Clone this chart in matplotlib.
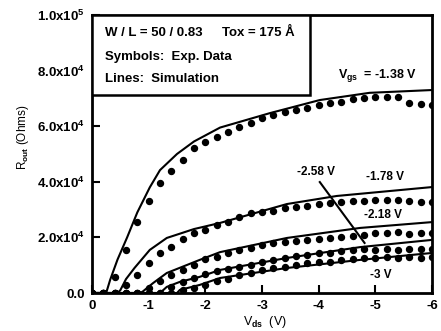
import numpy as np
import matplotlib
matplotlib.use("Agg")
import matplotlib.pyplot as plt
from matplotlib.patches import Rectangle

plt.rcParams['font.family'] = ['Liberation Sans', 'DejaVu Sans']
plt.rcParams['font.weight'] = 'bold'
plt.rcParams['mathtext.fontset'] = 'custom'
plt.rcParams['mathtext.rm'] = 'Liberation Sans:bold'
plt.rcParams['mathtext.it'] = 'Liberation Sans:bold'
plt.rcParams['mathtext.bf'] = 'Liberation Sans:bold'
plt.rcParams['mathtext.default'] = 'rm'
plt.rcParams['axes.unicode_minus'] = False

# Datos experimentales (simbolos), Vds de 0 a -6 V
vds_exp = [0.0, -0.2, -0.4, -0.6, -0.8, -1.0, -1.2, -1.4, -1.6, -1.8, -2.0,
           -2.2, -2.4, -2.6, -2.8, -3.0, -3.2, -3.4, -3.6, -3.8, -4.0,
           -4.2, -4.4, -4.6, -4.8, -5.0, -5.2, -5.4, -5.6, -5.8, -6.0]
r_exp_138 = [0, 0, 5.8e3, 1.55e4, 2.55e4, 3.3e4, 3.96e4, 4.39e4, 4.78e4, 5.2e4, 5.43e4,
             5.6e4, 5.8e4, 5.97e4, 6.1e4, 6.3e4, 6.4e4, 6.5e4, 6.58e4, 6.65e4, 6.76e4,
             6.83e4, 6.87e4, 6.98e4, 7.0e4, 7.05e4, 7.05e4, 7.05e4, 6.83e4, 6.8e4, 6.76e4]
r_exp_178 = [0, 0, 0, 3.0e3, 6.5e3, 1.08e4, 1.44e4, 1.65e4, 1.94e4, 2.16e4, 2.27e4,
             2.45e4, 2.55e4, 2.73e4, 2.88e4, 2.91e4, 2.95e4, 3.06e4, 3.09e4, 3.13e4, 3.2e4,
             3.24e4, 3.27e4, 3.31e4, 3.31e4, 3.35e4, 3.35e4, 3.35e4, 3.31e4, 3.27e4, 3.27e4]
r_exp_218 = [0, 0, 0, 0, 0, 1.8e3, 4.3e3, 6.5e3, 8.3e3, 1.0e4, 1.22e4,
             1.3e4, 1.45e4, 1.55e4, 1.62e4, 1.73e4, 1.8e4, 1.83e4, 1.87e4, 1.9e4, 1.94e4,
             1.98e4, 2.01e4, 2.05e4, 2.09e4, 2.16e4, 2.16e4, 2.19e4, 2.12e4, 2.16e4, 2.16e4]
r_exp_258 = [0, 0, 0, 0, 0, 0, 0, 2.2e3, 4.0e3, 5.4e3, 6.8e3,
             7.9e3, 8.8e3, 9.4e3, 1.0e4, 1.12e4, 1.19e4, 1.26e4, 1.33e4, 1.37e4, 1.44e4,
             1.44e4, 1.51e4, 1.55e4, 1.58e4, 1.55e4, 1.58e4, 1.55e4, 1.58e4, 1.58e4, 1.58e4]
r_exp_300 = [0, 0, 0, 0, 0, 0, 0, 0, 1.0e3, 1.8e3, 2.9e3,
             4.3e3, 5.0e3, 6.5e3, 7.2e3, 8.3e3, 9.0e3, 9.4e3, 1.0e4, 1.08e4, 1.12e4,
             1.12e4, 1.19e4, 1.22e4, 1.26e4, 1.26e4, 1.3e4, 1.26e4, 1.3e4, 1.26e4, 1.3e4]

# Simulacion (lineas)
vds_sim_138 = [0, -0.25, -0.32, -0.45, -0.62, -0.8, -1.02, -1.2, -1.5, -1.8, -2.26, -3.14, -4.02, -4.9, -6.0]
r_sim_138 = [0, 0, 4.7e3, 1.2e4, 2.0e4, 2.9e4, 3.8e4, 4.42e4, 5.0e4, 5.45e4, 5.95e4, 6.47e4, 6.94e4, 7.2e4, 7.3e4]
vds_sim_178 = [0, -0.45, -0.5, -0.6, -0.75, -1.02, -1.32, -1.8, -2.26, -3.44, -4.32, -6.0]
r_sim_178 = [0, 0, 1.0e3, 5.0e3, 9.0e3, 1.55e4, 1.98e4, 2.3e4, 2.52e4, 3.2e4, 3.49e4, 3.81e4]
vds_sim_218 = [0, -0.85, -0.9, -1.08, -1.32, -1.9, -2.26, -3.44, -4.73, -6.0]
r_sim_218 = [0, 0, 600, 3.6e3, 7.2e3, 1.19e4, 1.47e4, 1.98e4, 2.34e4, 2.55e4]
vds_sim_258 = [0, -1.2, -1.32, -1.55, -1.9, -2.26, -3.44, -4.73, -6.0]
r_sim_258 = [0, 0, 2.2e3, 4.0e3, 5.8e3, 8.3e3, 1.26e4, 1.65e4, 1.91e4]
vds_sim_300 = [0, -1.5, -1.55, -1.9, -2.26, -3.44, -4.73, -6.0]
r_sim_300 = [0, 0, 1.1e3, 2.9e3, 5.4e3, 9.0e3, 1.19e4, 1.44e4]

yticks = [0, 2e4, 4e4, 6e4, 8e4, 1e5]
ytick_labels = ['0.0', '2.0x10$^4$', '4.0x10$^4$', '6.0x10$^4$', '8.0x10$^4$', '1.0x10$^5$']
xticks = [0, -1, -2, -3, -4, -5, -6]
xtick_labels = ['0', '-1', '-2', '-3', '-4', '-5', '-6']

fig = plt.figure(figsize=(4.41, 3.31), dpi=100)
ax = fig.add_axes([0.2086, 0.1148, 0.771, 0.84])

sim = [(vds_sim_138, r_sim_138), (vds_sim_178, r_sim_178), (vds_sim_218, r_sim_218),
       (vds_sim_258, r_sim_258), (vds_sim_300, r_sim_300)]
exp = [r_exp_138, r_exp_178, r_exp_218, r_exp_258, r_exp_300]
for xs, ys in sim:
    ax.plot(xs, ys, color='black', lw=1.5, clip_on=True)
for ys in exp:
    ax.plot(vds_exp, ys, 'o', color='black', ms=4.3, clip_on=True)

ax.set_xlim(0, -6)
ax.set_ylim(0, 1e5)
ax.set_xticks(xticks)
ax.set_xticklabels(xtick_labels)
ax.set_yticks(yticks)
ax.set_yticklabels(ytick_labels)
ax.tick_params(direction='in', length=6, width=1.5, labelsize=9.5, pad=5)
for s in ax.spines.values():
    s.set_linewidth(2)

ax.set_xlabel(r'V$_{ds}$  (V)', fontsize=9)
ax.set_ylabel(r'R$_{out}$ (Ohms)', fontsize=8.5)
ax.xaxis.set_label_coords(0.51, -0.075)
ax.yaxis.set_label_coords(-0.18, 0.56)

# recuadro de leyenda
ax.add_patch(Rectangle((0, 0.712), 0.641, 0.288, transform=ax.transAxes,
                       facecolor='white', edgecolor='black', lw=1.8, zorder=5))
ax.text(0.038, 0.935, 'W / L = 50 / 0.83', transform=ax.transAxes, fontsize=9.5,
        va='center', zorder=6)
ax.text(0.382, 0.935, 'Tox = 175 Å', transform=ax.transAxes, fontsize=9.5,
        va='center', zorder=6)
ax.text(0.038, 0.849, 'Symbols:  Exp. Data', transform=ax.transAxes, fontsize=9.5,
        va='center', zorder=6)
ax.text(0.038, 0.77, 'Lines:  Simulation', transform=ax.transAxes, fontsize=9.5,
        va='center', zorder=6)

ax.text(-5.03, 7.84e4, r'V$_{gs}$  = -1.38 V', fontsize=9, ha='center', va='center')
ax.text(-3.95, 4.35e4, '-2.58 V', fontsize=8.5, ha='center', va='center')
ax.text(-5.17, 4.17e4, '-1.78 V', fontsize=8.5, ha='center', va='center')
ax.text(-5.13, 2.8e4, '-2.18 V', fontsize=8.5, ha='center', va='center')
ax.text(-5.1, 6.5e3, '-3 V', fontsize=8.5, ha='center', va='center')
ax.plot([-4.02, -4.81], [3.99e4, 1.8e4], color='black', lw=1.5)

plt.savefig('out.png', dpi=100)
